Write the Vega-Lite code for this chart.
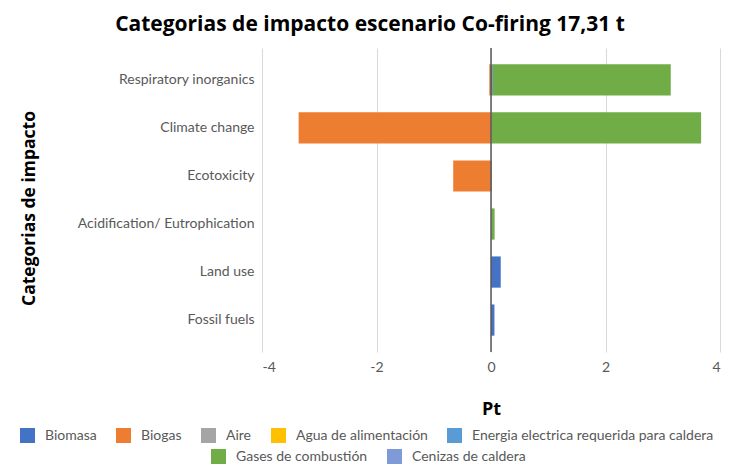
{
  "$schema": "https://vega.github.io/schema/vega-lite/v6.json",
  "width": 458,
  "height": 304,
  "autosize": {"type": "none"},
  "padding": {"left": 262, "top": 48, "right": 12, "bottom": 116},
  "background": "white",
  "title": {
    "text": "Categorias de impacto escenario Co-firing 17,31 t",
    "font": "Open Sans",
    "fontSize": 21,
    "fontWeight": "bold",
    "color": "#000000",
    "anchor": "middle",
    "frame": "bounds",
    "offset": 12
  },
  "data": {
    "values": [
      {"category": "Respiratory inorganics", "series": "Biomasa", "value": 0.03, "ord": 1},
      {"category": "Respiratory inorganics", "series": "Biogas", "value": -0.03, "ord": 2},
      {"category": "Respiratory inorganics", "series": "Gases de combustión", "value": 3.11, "ord": 6},
      {"category": "Climate change", "series": "Biomasa", "value": 0.01, "ord": 1},
      {"category": "Climate change", "series": "Biogas", "value": -3.36, "ord": 2},
      {"category": "Climate change", "series": "Gases de combustión", "value": 3.66, "ord": 6},
      {"category": "Ecotoxicity", "series": "Biomasa", "value": 0.01, "ord": 1},
      {"category": "Ecotoxicity", "series": "Biogas", "value": -0.66, "ord": 2},
      {"category": "Acidification/ Eutrophication", "series": "Biomasa", "value": 0.003, "ord": 1},
      {"category": "Acidification/ Eutrophication", "series": "Gases de combustión", "value": 0.06, "ord": 6},
      {"category": "Land use", "series": "Biomasa", "value": 0.17, "ord": 1},
      {"category": "Fossil fuels", "series": "Biomasa", "value": 0.06, "ord": 1}
    ]
  },
  "config": {
    "view": {"stroke": null},
    "axis": {"labelFont": "Lato", "titleFont": "Open Sans"},
    "legend": {"labelFont": "Lato"}
  },
  "layer": [
    {
      "transform": [
        {"stack": "value", "groupby": ["category"], "sort": [{"field": "ord", "order": "ascending"}], "as": ["v0", "v1"]},
        {"filter": "datum.ord <= 5"}
      ],
      "mark": {"type": "bar"},
      "encoding": {
        "y": {
          "field": "category",
          "type": "nominal",
          "scale": {
            "domain": ["Respiratory inorganics", "Climate change", "Ecotoxicity", "Acidification/ Eutrophication", "Land use", "Fossil fuels"],
            "paddingInner": 0.35,
            "paddingOuter": 0.34
          },
          "axis": {
            "title": "Categorias de impacto",
            "titleFontSize": 17.5,
            "titleFontWeight": "bold",
            "titleColor": "#000000",
            "titleAngle": -90,
            "titleX": -233,
            "titleY": 160,
            "titleAlign": "center",
            "titleBaseline": "middle",
            "labelFontSize": 14,
            "labelColor": "#595959",
            "labelPadding": 8,
            "labelLimit": 300,
            "ticks": false,
            "domain": false,
            "grid": false
          }
        },
        "x": {
          "field": "v0",
          "type": "quantitative",
          "scale": {"domain": [-4, 4], "nice": false},
          "axis": {
            "title": "Pt",
            "titleFontSize": 18,
            "titleFontWeight": "bold",
            "titleColor": "#000000",
            "titlePadding": 26,
            "values": [-4, -2, 0, 2, 4],
            "labelExpr": "'' + datum.value",
            "labelFontSize": 14,
            "labelColor": "#595959",
            "labelPadding": 8,
            "ticks": false,
            "domain": false,
            "grid": true,
            "gridColor": "#d9d9d9",
            "gridWidth": 1
          }
        },
        "x2": {"field": "v1"},
        "color": {
          "field": "series",
          "type": "nominal",
          "scale": {
            "domain": ["Biomasa", "Biogas", "Aire", "Agua de alimentación", "Energia electrica requerida para caldera"],
            "range": ["#4472C4", "#ED7D31", "#A5A5A5", "#FFC000", "#5B9BD5"]
          },
          "legend": {
            "orient": "none",
            "legendX": -242,
            "legendY": 380,
            "direction": "horizontal",
            "title": null,
            "symbolType": "square",
            "symbolSize": 225,
            "symbolStrokeWidth": 0,
            "labelFontSize": 14,
            "labelColor": "#595959",
            "labelLimit": 320,
            "labelOffset": 10,
            "columnPadding": 19
          }
        }
      }
    },
    {
      "transform": [
        {"stack": "value", "groupby": ["category"], "sort": [{"field": "ord", "order": "ascending"}], "as": ["v0", "v1"]},
        {"filter": "datum.ord >= 6"}
      ],
      "mark": {"type": "bar"},
      "encoding": {
        "y": {"field": "category", "type": "nominal"},
        "x": {"field": "v0", "type": "quantitative"},
        "x2": {"field": "v1"},
        "color": {
          "field": "series",
          "type": "nominal",
          "scale": {
            "domain": ["Gases de combustión", "Cenizas de caldera"],
            "range": ["#70AD47", "#7E9BD8"]
          },
          "legend": {
            "orient": "none",
            "legendX": -51,
            "legendY": 401,
            "direction": "horizontal",
            "title": null,
            "symbolType": "square",
            "symbolSize": 225,
            "symbolStrokeWidth": 0,
            "labelFontSize": 14,
            "labelColor": "#595959",
            "labelLimit": 320,
            "labelOffset": 10,
            "columnPadding": 19
          }
        }
      }
    },
    {
      "data": {"values": [{"zero": 0}]},
      "mark": {"type": "rule", "color": "#595959", "strokeWidth": 1.5},
      "encoding": {"x": {"field": "zero", "type": "quantitative"}}
    }
  ],
  "resolve": {"scale": {"color": "independent"}}
}
